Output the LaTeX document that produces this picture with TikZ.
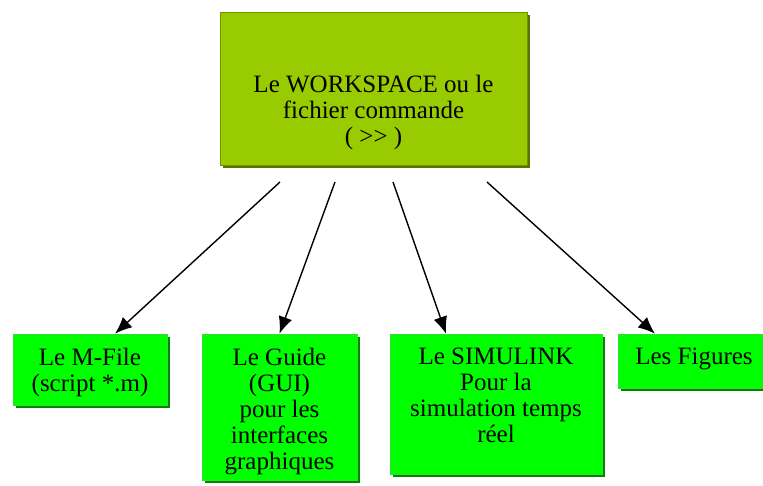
\documentclass[tikz,border=0pt]{standalone}
\usepackage{fontspec}
\setmainfont{Liberation Serif}
\usetikzlibrary{positioning,arrows.meta,shadows}
\definecolor{topgreen}{HTML}{99CC00}
\definecolor{topedge}{HTML}{6F9400}
\definecolor{topshadow}{HTML}{557300}
\definecolor{boxgreen}{HTML}{00FF00}
\definecolor{boxedge}{HTML}{33DD33}
\definecolor{boxshadow}{HTML}{008800}
\tikzset{topbox/.style={draw=topedge,fill=topgreen,line width=0.6pt,
    drop shadow={shadow xshift=3pt,shadow yshift=-3pt,fill=topshadow,opacity=1}},
  subbox/.style={draw=boxedge,fill=boxgreen,line width=0.6pt,
    drop shadow={shadow xshift=3pt,shadow yshift=-3pt,fill=boxshadow,opacity=1}},
  txt/.style={inner sep=0pt,align=center,font=\fontsize{25}{26}\selectfont},
  link/.style={-{Latex[length=17pt,width=14pt]},line width=1.4pt}
}
\begin{document}
\begin{tikzpicture}[x=1pt,y=-1pt]
	\useasboundingbox (0,0) rectangle (763,486);
	% boxes
	\node[topbox,minimum width=307pt,minimum height=153pt] (ws) at (373.5,88.5) {};
	\node[subbox,minimum width=154pt,minimum height=71pt] (mfile) at (90,369.5) {};
	\node[subbox,minimum width=155pt,minimum height=146pt] (guide) at (279.5,407) {};
	\node[subbox,minimum width=212pt,minimum height=140pt] (simul) at (496,404) {};
	\node[subbox,minimum width=152pt,minimum height=54pt] (figs) at (694,361) {};
	% texts
	\node[txt,below=63pt of ws.north] (wstxt) {Le WORKSPACE ou le\\fichier commande\\( >{}> )};
	\node[txt,below=14pt of mfile.north] (mfiletxt) {Le M-File\\(script *.m)};
	\node[txt,below=14pt of guide.north] (guidetxt) {Le Guide\\(GUI)\\pour les\\interfaces\\graphiques};
	\node[txt,below=14pt of simul.north] (simultxt) {Le SIMULINK\\Pour la\\simulation temps\\réel};
	\node[txt,below=14pt of figs.north] (figstxt) {Les Figures};
	% arrows
	\coordinate (s1) at (280,182);
	\coordinate (s2) at (335,182);
	\coordinate (s3) at (393,182);
	\coordinate (s4) at (487,182);
	\draw[link] (s1) -- ([xshift=25pt]mfile.north);
	\draw[link] (s2) -- (guide.north);
	\draw[link] (s3) -- ([xshift=-50pt]simul.north);
	\draw[link] (s4) -- ([xshift=-39pt]figs.north);
\end{tikzpicture}
\end{document}
